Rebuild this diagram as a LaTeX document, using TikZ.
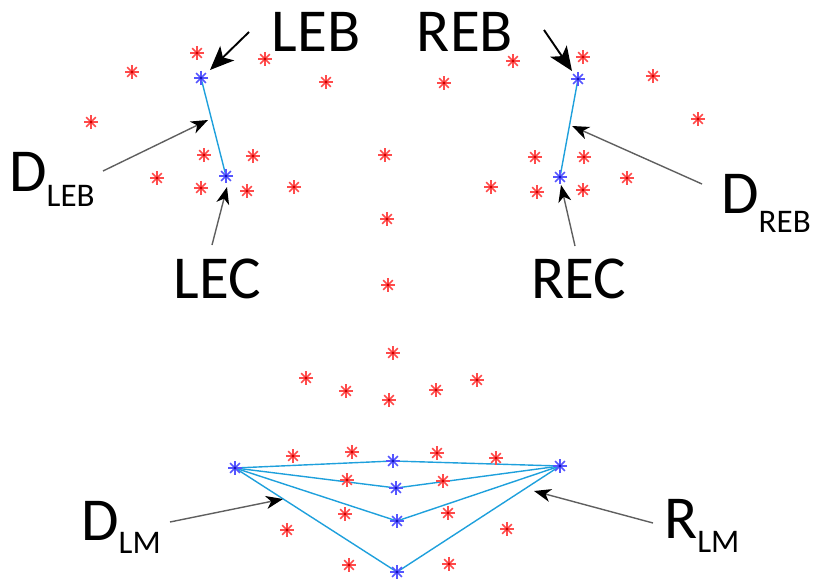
\documentclass[tikz,border=0pt]{standalone}
\usepackage{fontspec}
\setmainfont{Carlito}
\usetikzlibrary{arrows.meta}

\definecolor{ptred}{RGB}{255,75,75}
\definecolor{ptredc}{RGB}{210,0,0}
\definecolor{ptblue}{RGB}{85,85,255}
\definecolor{ptbluec}{RGB}{20,20,190}
\definecolor{linkblue}{RGB}{30,160,220}
\definecolor{leadgray}{RGB}{95,95,95}

\tikzset{
  x=1pt, y=-1pt,
  rstar/.pic={
    \foreach \a in {0,45,90,135}
      \draw[ptred, line width=1.5pt] (\a:6.8pt) -- (\a+180:6.8pt);
    \fill[ptredc] (0,0) circle (1.6pt);
  },
  bstar/.pic={
    \foreach \a in {0,45,90,135}
      \draw[ptblue, line width=1.5pt] (\a:7pt) -- (\a+180:7pt);
    \fill[ptbluec] (0,0) circle (1.6pt);
  },
  link/.style={linkblue, line width=1.4pt},
  bigarrow/.style={black, line width=1.9pt, -{Stealth[length=24pt,width=20pt,inset=6pt]}},
  leader/.style={leadgray, line width=1.4pt, -{Stealth[length=17pt,width=13pt,inset=5pt,color=black]}},
  lbl/.style={font=\fontsize{61}{61}\selectfont, inner sep=0pt},
}
\newcommand{\subtxt}[2]{\raisebox{-#1pt}{\fontsize{33}{33}\selectfont #2}}

\begin{document}
\begin{tikzpicture}
\useasboundingbox (0,0) rectangle (821,580);

% landmark points
\coordinate (leb) at (201,78);
\coordinate (lec) at (226,176);
\coordinate (reb) at (578,79);
\coordinate (rec) at (560,177);
\coordinate (ml) at (235,468);
\coordinate (mr) at (560,466);
\coordinate (m1) at (393,461);
\coordinate (m2) at (396,488);
\coordinate (m3) at (397,521);
\coordinate (m4) at (397,572);

% distance segments
\draw[link] (leb) -- (lec);
\draw[link] (reb) -- (rec);
\foreach \m in {m1,m2,m3,m4}
  \draw[link] (ml) -- (\m) -- (mr);

% other facial points
\foreach \p in {(197,53),(265,59),(132,72),(326,82),(91,122),(204,155),(253,156),
                (157,178),(201,188),(247,191),(294,187),
                (385,155),(387,219),(388,285),(393,353),
                (583,57),(513,61),(444,83),(653,76),(698,119),(535,157),(584,157),
                (627,178),(491,187),(537,192),(583,190),
                (306,378),(346,391),(389,400),(436,390),(477,380),
                (293,456),(352,452),(437,453),(496,458),(347,480),(443,481),
                (345,514),(448,513),(287,530),(507,529),(349,565),(449,564)}
  \pic at \p {rstar};

% highlighted points
\foreach \p in {leb,lec,reb,rec,ml,mr,m1,m2,m3,m4}
  \pic at (\p) {bstar};

% labels
\node[lbl, anchor=base] (tleb) at (316,52) {LEB};
\node[lbl, anchor=base] (treb) at (465,52) {REB};
\node[lbl, anchor=base] (tlec) at (217,298) {LEC};
\node[lbl, anchor=base] (trec) at (579,298) {REC};
\node[lbl, anchor=base west] (tdleb) at (9,192) {D\subtxt{14}{LEB}};
\node[lbl, anchor=base west] (tdreb) at (721,213) {D\subtxt{19}{REB}};
\node[lbl, anchor=base west] (tdlm) at (81,540) {D\subtxt{13}{LM}};
\node[lbl, anchor=base west] (trlm) at (664,538) {R\subtxt{14}{LM}};

% arrow ends
\coordinate (aleb0) at (249,32);  \coordinate (aleb1) at (210,70);
\coordinate (areb0) at (544,30);  \coordinate (areb1) at (572,71);
\coordinate (adl0) at (103,171);  \coordinate (adl1) at (208,120);
\coordinate (alec0) at (212,245); \coordinate (alec1) at (227,187);
\coordinate (adr0) at (702,184);  \coordinate (adr1) at (572,126);
\coordinate (arec0) at (575,246); \coordinate (arec1) at (561,185);
\coordinate (adm0) at (170,522);  \coordinate (adm1) at (283,499);
\coordinate (arm0) at (653,523);  \coordinate (arm1) at (534,491);

\draw[bigarrow] (aleb0) -- (aleb1);
\draw[bigarrow] (areb0) -- (areb1);
\draw[leader] (adl0) -- (adl1);
\draw[leader] (alec0) -- (alec1);
\draw[leader] (adr0) -- (adr1);
\draw[leader] (arec0) -- (arec1);
\draw[leader] (adm0) -- (adm1);
\draw[leader] (arm0) -- (arm1);
\end{tikzpicture}
\end{document}
